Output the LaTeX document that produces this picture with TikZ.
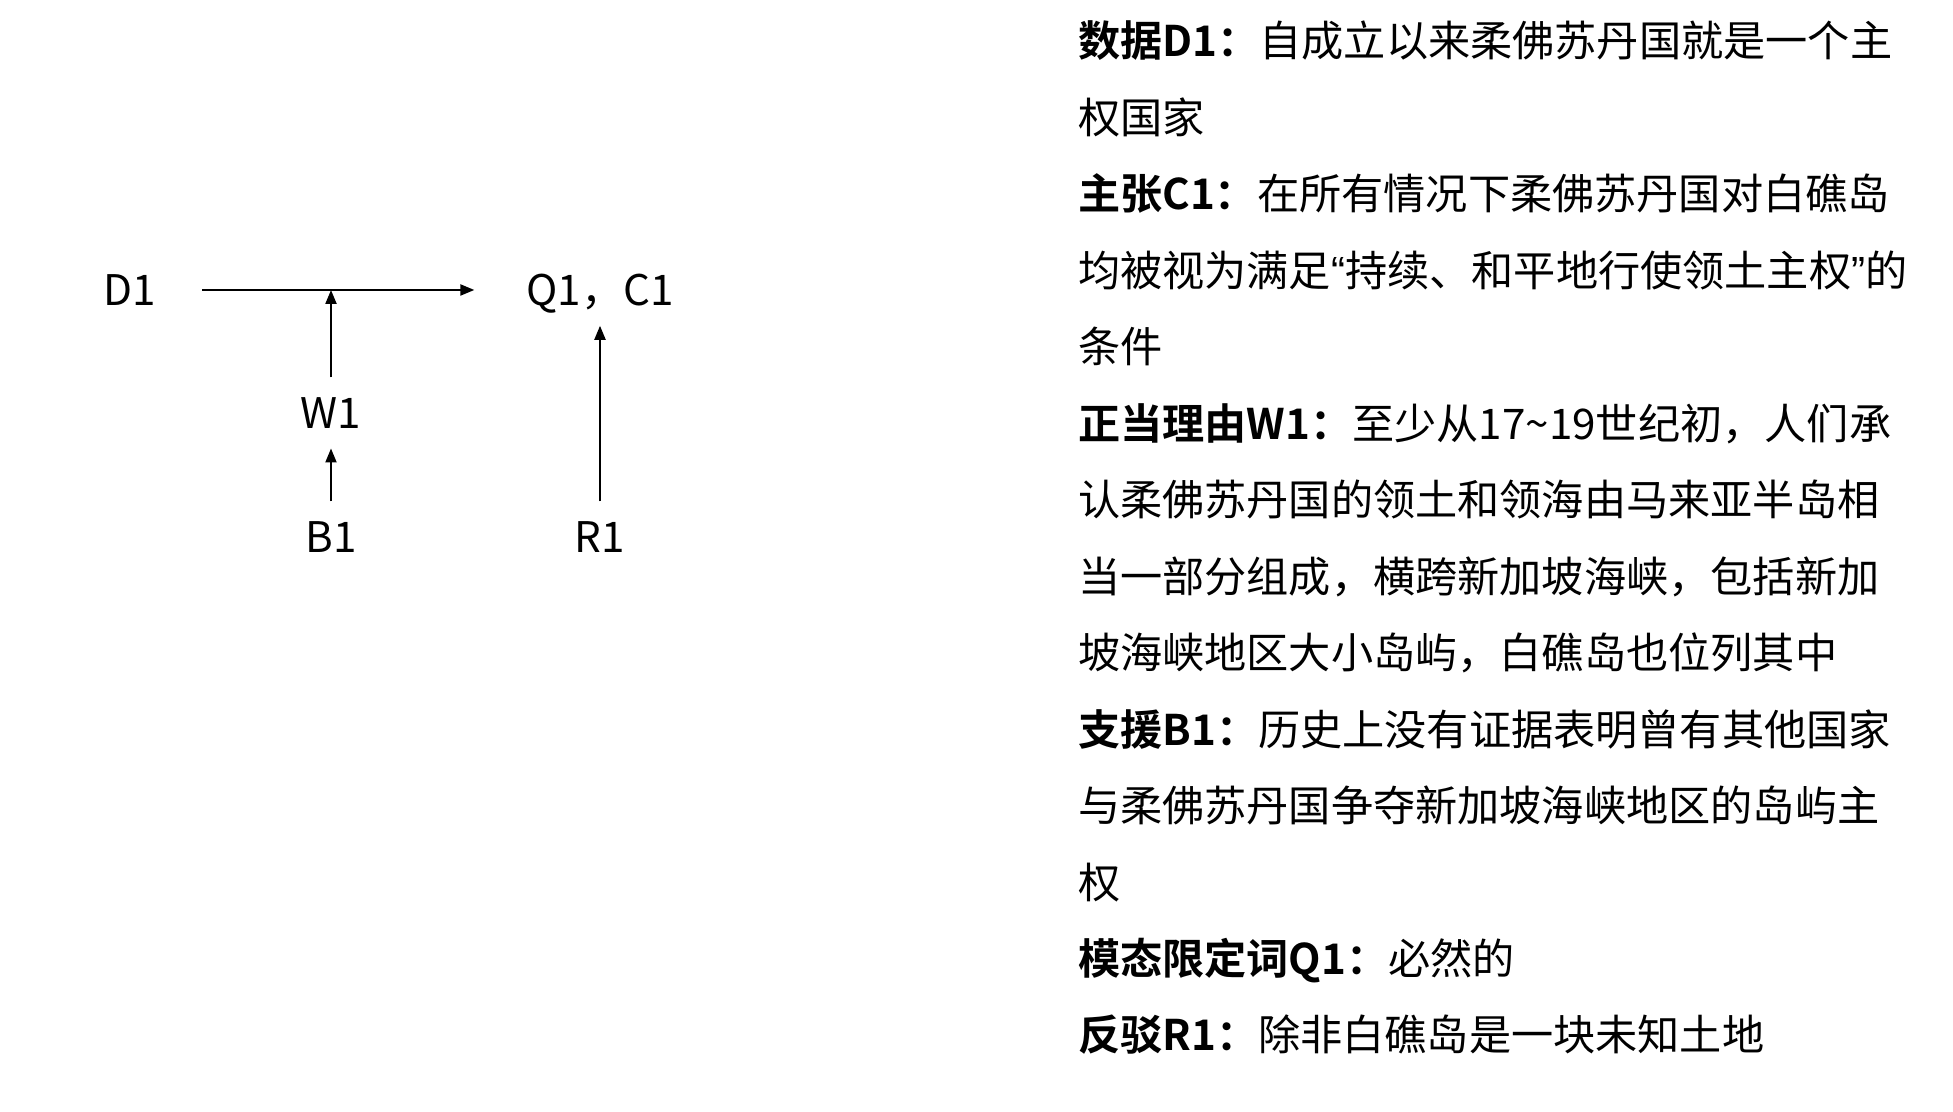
\documentclass[tikz,border=0pt]{standalone}
\usepackage{fontspec}
\setmainfont{Noto Sans CJK SC}[BoldFont={* Bold}]
\newfontfamily\latq{Liberation Sans}
\usetikzlibrary{arrows.meta,positioning}

\begin{document}
\begin{tikzpicture}[every node/.style={font=\fontsize{12pt}{14pt}\selectfont}, >={Triangle[length=1.4mm, width=1.1mm]}, t/.style={inner xsep=4.5mm, inner ysep=1.9mm, text depth=0pt}, txt/.style={anchor=base west, inner sep=0pt}, line width=0.6pt]
	\useasboundingbox (0,0) rectangle (19.53,11.12);
	\node[t] (D1) at (1.30,8.22) {D1};
	\node[t] (QC) at (6.00,8.22) {Q1，C1};
	\node[t] (W1) at (3.31,6.99) {W1};
	\node[t] (B1) at (3.31,5.75) {B1};
	\node[t] (R1) at (6.00,5.75) {R1};
	\coordinate (J) at (D1 -| W1);
	\draw[->, shorten >=0.6mm] (D1) -- (QC);
	\draw[->] (W1) -- (J);
	\draw[->] (B1) -- (W1);
	\draw[->] (R1) -- (QC);
	\foreach \lb/\tx [count=\i from 0] in {数据D1：/自成立以来柔佛苏丹国就是一个主, /权国家, 主张C1：/在所有情况下柔佛苏丹国对白礁岛, /均被视为满足{\latq “}持续、和平地行使领土主权{\latq ”}的, /条件, 正当理由W1：/至少从17\textasciitilde 19世纪初，人们承, /认柔佛苏丹国的领土和领海由马来亚半岛相, /当一部分组成，横跨新加坡海峡，包括新加, /坡海峡地区大小岛屿，白礁岛也位列其中, 支援B1：/历史上没有证据表明曾有其他国家, /与柔佛苏丹国争夺新加坡海峡地区的岛屿主, /权, 模态限定词Q1：/必然的, 反驳R1：/除非白礁岛是一块未知土地} {\node[txt] (ln\i) at (10.77,{10.55-0.7646*\i}) {\textbf{\lb}\tx};}
\end{tikzpicture}
\end{document}
